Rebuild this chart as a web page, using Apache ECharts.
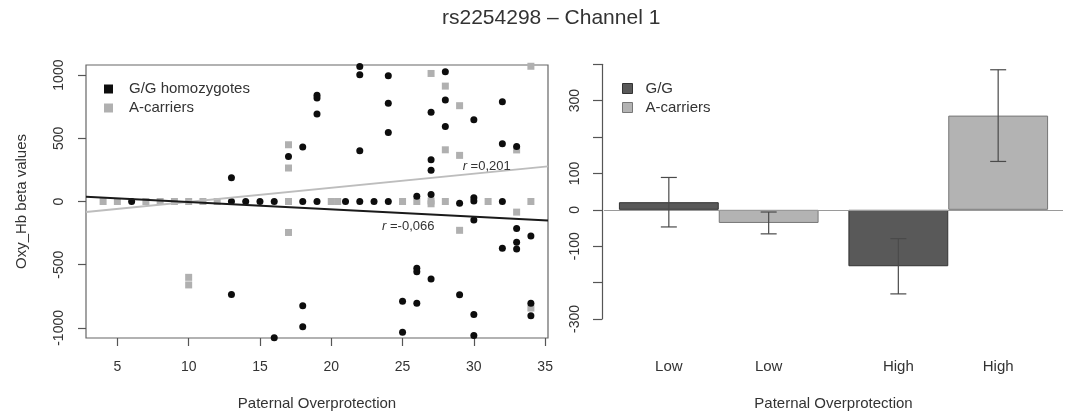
<!DOCTYPE html>
<html>
<head>
<meta charset="utf-8">
<script src="https://cdn.jsdelivr.net/npm/echarts@6/dist/echarts.min.js"></script>
<style>
  html, body { margin: 0; padding: 0; background: #fff; }
  #chart { width: 1072px; height: 416px; }
</style>
</head>
<body>
<div id="chart"></div>
<script>
// ---- Left panel: paternal overprotection score vs Oxy_Hb beta value ----
const ggPoints = [
  [6, 0], [13, 0], [14, 0], [15, 0], [16, 0], [18, 0], [19, 0], [21, 0], [22, 0], [23, 0], [24, 0],
  [26, 42], [27, 55], [29, -14], [30, 29], [30, 4], [32, 0],
  [13, 187], [17, 357], [18, 431], [19, 840], [19, 818], [19, 693], [22, 1068], [22, 1003], [22, 402],
  [24, 994], [24, 777], [24, 546], [27, 706], [27, 331], [27, 247], [28, 1026], [28, 803], [28, 593],
  [30, 646], [32, 790], [32, 457], [33, 436],
  [13, -735], [16, -1078], [18, -824], [18, -990], [25, -790], [25, -1034], [26, -528], [26, -556],
  [26, -806], [27, -614], [29, -738], [30, -147], [30, -895], [30, -1061], [32, -370], [33, -213],
  [33, -322], [33, -376], [34, -273], [34, -806], [34, -903]
];
const aPoints = [
  [4, 0], [5, 0], [7, 0], [8, 0], [9, 0], [10, 0], [11, 0], [12, 0], [17, 0], [20, 0], [20.45, 0],
  [25, 0], [26, 0], [27, 4], [27, -18], [28, 0], [31, 0], [34, 0],
  [17, 449], [17, 265], [27, 1013], [28, 913], [29, 758], [28, 409], [29, 365], [33, 408], [34, 1070],
  [10, -600], [10, -660], [17, -245], [29, -228], [33, -84], [34, -843]
];
// Least-squares fits: [intercept, slope]
const ggFit = [53.2, -5.77];
const aFit = [-115.3, 11.17];
const ggFitLabel = '-0,066';
const aFitLabel = '0,201';
const xTicks = [5, 10, 15, 20, 25, 30, 35];
const yTicks = [-1000, -500, 0, 500, 1000];
const xRange = [2.8, 35.2];
const yRange = [-1080, 1080];

// ---- Right panel: group means with error bars ----
const groups = ['Low', 'High'];
const ggMeans = [21, -155];
const aMeans = [-36, 259];
const ggErr = [68, 76];
const aErr = [30, 126];
const barYTicksLabelled = [300, 100, 0, -100, -300];

const font = 'Liberation Sans, Arial, Helvetica, sans-serif';
const ink = '#333';
const catGap = 0.13;

function fitLine(fit) {
  return xRange.map(x => [x, fit[0] + fit[1] * x]);
}

// vertical error bar with caps, shifted onto its bar inside the category
function errorBars(name, means, errs, side) {
  return {
    type: 'custom',
    name: name + ' SE',
    xAxisIndex: 1, yAxisIndex: 1, z: 5, silent: true,
    data: means.map((m, i) => [i, m - errs[i], m + errs[i]]),
    encode: { x: 0, y: [1, 2] },
    renderItem(params, api) {
      const lo = api.coord([api.value(0), api.value(1)]);
      const hi = api.coord([api.value(0), api.value(2)]);
      const cat = api.size([1, 0])[0];
      const barW = cat * (1 - catGap) / 2;
      const x = lo[0] + side * barW / 2;
      const cap = 8;
      const style = { stroke: '#4a4a4a', lineWidth: 1.2 };
      return {
        type: 'group',
        children: [
          { type: 'line', shape: { x1: x, y1: lo[1], x2: x, y2: hi[1] }, style },
          { type: 'line', shape: { x1: x - cap, y1: lo[1], x2: x + cap, y2: lo[1] }, style },
          { type: 'line', shape: { x1: x - cap, y1: hi[1], x2: x + cap, y2: hi[1] }, style }
        ]
      };
    }
  };
}

function barLabelLayout(params) {
  return {
    x: params.rect.x + params.rect.width / 2,
    y: 367,
    align: 'center',
    verticalAlign: 'middle'
  };
}

const chart = echarts.init(document.getElementById('chart'));

chart.setOption({
  animation: false,
  textStyle: { fontFamily: font, color: ink },
  title: {
    text: 'rs2254298 – Channel 1',
    left: 442, top: 8, padding: 0,
    textStyle: { fontSize: 21, fontWeight: 'normal', color: ink, fontFamily: font }
  },
  legend: [
    {
      left: 99, top: 76.5, orient: 'vertical', itemWidth: 9, itemHeight: 9, itemGap: 4,
      selectedMode: false,
      data: [
        { name: 'G/G homozygotes', icon: 'rect' },
        { name: 'A-carriers', icon: 'rect', itemStyle: { color: '#b0b0b0' } }
      ],
      textStyle: { fontSize: 15, color: ink, fontFamily: font, padding: [0, 0, 0, 11] }
    },
    {
      left: 617, top: 76, orient: 'vertical', itemWidth: 10, itemHeight: 10, itemGap: 4,
      selectedMode: false,
      data: [
        { name: 'G/G', icon: 'rect', itemStyle: { color: '#595959', borderColor: '#333', borderWidth: 1 } },
        { name: 'A-carriers', icon: 'rect', itemStyle: { color: '#b3b3b3', borderColor: '#777', borderWidth: 1 } }
      ],
      textStyle: { fontSize: 15, color: ink, fontFamily: font, padding: [0, 0, 0, 8] }
    }
  ],
  grid: [
    { left: 86, right: 524, top: 65, bottom: 77, show: true, borderColor: '#666', borderWidth: 1.2, backgroundColor: 'transparent' },
    { left: 604, right: 9, top: 64.3, bottom: 96 }
  ],
  xAxis: [
    {
      type: 'value', gridIndex: 0, min: xRange[0], max: xRange[1],
      axisLine: { show: false, onZero: false },
      axisTick: { show: true, customValues: xTicks, length: 8, lineStyle: { color: '#555', width: 1.2 } },
      axisLabel: { customValues: xTicks, margin: 22, fontSize: 14, color: ink, formatter: v => String(v) },
      splitLine: { show: false },
      name: 'Paternal Overprotection', nameLocation: 'middle', nameGap: 58,
      nameTextStyle: { fontSize: 15, color: ink }
    },
    {
      type: 'category', gridIndex: 1, data: groups,
      axisLine: { show: false, onZero: false },
      axisTick: { show: false },
      axisLabel: { show: false },
      splitLine: { show: false },
      name: 'Paternal Overprotection', nameLocation: 'middle', nameGap: 77,
      nameTextStyle: { fontSize: 15, color: ink }
    }
  ],
  yAxis: [
    {
      type: 'value', gridIndex: 0, min: yRange[0], max: yRange[1],
      axisLine: { show: false, onZero: false },
      axisTick: { show: true, customValues: yTicks, length: 8, lineStyle: { color: '#555', width: 1.2 } },
      axisLabel: { customValues: yTicks, rotate: 90, margin: 20, fontSize: 14, color: ink, formatter: v => String(v) },
      splitLine: { show: false },
      name: 'Oxy_Hb beta values', nameLocation: 'middle', nameGap: 57,
      nameTextStyle: { fontSize: 15, color: ink }
    },
    {
      type: 'value', gridIndex: 1, min: -300, max: 400, interval: 100, offset: 2,
      axisLine: { show: true, onZero: false, lineStyle: { color: '#555', width: 1.2 } },
      axisTick: { show: true, length: 9, lineStyle: { color: '#555', width: 1.2 } },
      axisLabel: {
        rotate: 90, margin: 20, fontSize: 14, color: ink,
        formatter: v => (barYTicksLabelled.includes(v) ? String(v) : '')
      },
      splitLine: { show: false }
    }
  ],
  series: [
    {
      name: 'A-carriers', type: 'scatter', xAxisIndex: 0, yAxisIndex: 0,
      data: aPoints, symbol: 'rect', symbolSize: 7,
      itemStyle: { color: '#b0b0b0', opacity: 1 }, z: 2
    },
    {
      name: 'G/G homozygotes', type: 'scatter', xAxisIndex: 0, yAxisIndex: 0,
      data: ggPoints, symbol: 'circle', symbolSize: 7,
      itemStyle: { color: '#0d0d0d', opacity: 1 }, z: 3
    },
    {
      name: 'A-carriers fit', type: 'line', xAxisIndex: 0, yAxisIndex: 0,
      data: fitLine(aFit), showSymbol: false, silent: true, z: 4,
      lineStyle: { color: '#bdbdbd', width: 2 },
      markPoint: {
        symbol: 'rect', symbolSize: 1, itemStyle: { color: 'transparent' },
        data: [{ coord: [30.9, 278] }],
        label: {
          show: true, position: 'inside', formatter: '{i|r} =' + aFitLabel,
          fontSize: 13, color: ink, fontFamily: font,
          rich: { i: { fontStyle: 'italic', fontSize: 13, fontFamily: font, color: ink } }
        }
      }
    },
    {
      name: 'G/G fit', type: 'line', xAxisIndex: 0, yAxisIndex: 0,
      data: fitLine(ggFit), showSymbol: false, silent: true, z: 4,
      lineStyle: { color: '#1a1a1a', width: 2 },
      markPoint: {
        symbol: 'rect', symbolSize: 1, itemStyle: { color: 'transparent' },
        data: [{ coord: [25.4, -197] }],
        label: {
          show: true, position: 'inside', formatter: '{i|r} =' + ggFitLabel,
          fontSize: 13, color: ink, fontFamily: font,
          rich: { i: { fontStyle: 'italic', fontSize: 13, fontFamily: font, color: ink } }
        }
      }
    },
    {
      name: 'G/G', type: 'bar', xAxisIndex: 1, yAxisIndex: 1,
      data: ggMeans, barGap: '0%', barCategoryGap: (catGap * 100) + '%',
      itemStyle: { color: '#595959', borderColor: '#333', borderWidth: 1 },
      label: { show: true, position: 'inside', formatter: '{b}', fontSize: 15, color: ink, fontFamily: font },
      labelLayout: barLabelLayout,
      markLine: {
        silent: true, symbol: 'none', label: { show: false },
        lineStyle: { color: '#9a9a9a', width: 1, type: 'solid' },
        data: [{ yAxis: 0 }]
      }
    },
    {
      name: 'A-carriers', type: 'bar', xAxisIndex: 1, yAxisIndex: 1,
      data: aMeans, barGap: '0%', barCategoryGap: (catGap * 100) + '%',
      itemStyle: { color: '#b3b3b3', borderColor: '#777', borderWidth: 1 },
      label: { show: true, position: 'inside', formatter: '{b}', fontSize: 15, color: ink, fontFamily: font },
      labelLayout: barLabelLayout
    },
    errorBars('G/G', ggMeans, ggErr, -1),
    errorBars('A-carriers', aMeans, aErr, 1)
  ]
});
</script>
</body>
</html>
